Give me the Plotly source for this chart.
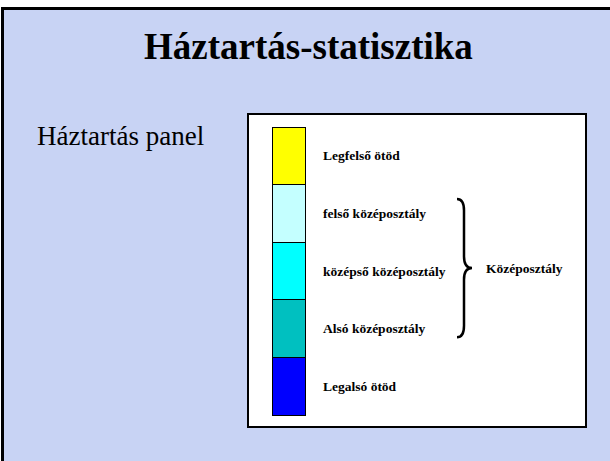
import plotly.graph_objects as go

# Quintiles, bottom to top
quintiles = ["Legalsó ötöd", "Alsó középosztály", "középső középosztály",
             "felső középosztály", "Legfelső ötöd"]
shares = [20, 20, 20, 20, 20]
colors = ["#0000FF", "#00C0C0", "#00FFFF", "#C4FFFF", "#FFFF00"]
middle_class = ["Alsó középosztály", "középső középosztály", "felső középosztály"]
middle_label = "Középosztály"

title_text = "Háztartás-statisztika"
subtitle_text = "Háztartás panel"

W, H = 610, 461
# white box in page pixels
BOX_L, BOX_R, BOX_T, BOX_B = 249, 585, 115, 426
SERIF = "Liberation Serif, Times New Roman, serif"
BG = "#c8d3f4"


def px_x(px):
    return (px - BOX_L) / (BOX_R - BOX_L)


def px_y(py):
    return (BOX_B - py) / (BOX_B - BOX_T)


fig = go.Figure()

bar_x = 39.5
for name, val, col in zip(quintiles, shares, colors):
    fig.add_trace(go.Bar(
        x=[bar_x], y=[val], width=33, name=name,
        marker=dict(color=col, line=dict(color="black", width=1)),
        showlegend=False, hoverinfo="name",
    ))

# labels next to each segment
cum = 0
for name, val in zip(quintiles, shares):
    fig.add_annotation(x=72, y=cum + val / 2, text=f"<b>{name}</b>",
                       xanchor="left", yanchor="middle", showarrow=False,
                       font=dict(family=SERIF, size=13.5, color="black"))
    cum += val

# brace spanning the middle-class segments
starts = {}
c = 0
for name, val in zip(quintiles, shares):
    starts[name] = (c, c + val)
    c += val
yb = starts[middle_class[0]][0] + 7
yt = starts[middle_class[-1]][1] - 5
yc = (yb + yt) / 2
x0, xm, xt = 208, 215, 223
r = 4
path = (f"M {x0},{yt} Q {xm},{yt} {xm},{yt - r} "
        f"L {xm},{yc + r} Q {xm},{yc} {xt},{yc} "
        f"Q {xm},{yc} {xm},{yc - r} "
        f"L {xm},{yb + r} Q {xm},{yb} {x0},{yb}")
fig.add_shape(type="path", path=path, xref="x", yref="y",
              line=dict(color="black", width=2.5))
fig.add_annotation(x=235, y=yc, text=f"<b>{middle_label}</b>",
                   xanchor="left", yanchor="middle", showarrow=False,
                   font=dict(family=SERIF, size=13.5, color="black"))

# slide frame: white strip on top/left, black border
fig.add_shape(type="rect", xref="paper", yref="paper",
              x0=px_x(0), x1=px_x(W), y0=px_y(0), y1=px_y(7),
              fillcolor="white", line=dict(width=0))
fig.add_shape(type="rect", xref="paper", yref="paper",
              x0=px_x(0), x1=px_x(1), y0=px_y(0), y1=px_y(H),
              fillcolor="white", line=dict(width=0))
fig.add_shape(type="rect", xref="paper", yref="paper",
              x0=px_x(1), x1=px_x(W), y0=px_y(7), y1=px_y(10),
              fillcolor="black", line=dict(width=0))
fig.add_shape(type="rect", xref="paper", yref="paper",
              x0=px_x(1), x1=px_x(4), y0=px_y(7), y1=px_y(H),
              fillcolor="black", line=dict(width=0))

fig.add_annotation(x=px_x(308), y=px_y(47), xref="paper", yref="paper",
                   text=f"<b>{title_text}</b>", showarrow=False,
                   xanchor="center", yanchor="middle",
                   font=dict(family=SERIF, size=37, color="black"))
fig.add_annotation(x=px_x(35), y=px_y(136), xref="paper", yref="paper",
                   text=subtitle_text, showarrow=False,
                   xanchor="left", yanchor="middle",
                   font=dict(family=SERIF, size=27, color="black"))

# y: bar spans 127..415 px for 0..100
unit = (415 - 127) / 100
fig.update_layout(
    width=W, height=H,
    margin=dict(l=BOX_L, r=W - BOX_R, t=BOX_T, b=H - BOX_B),
    barmode="stack",
    paper_bgcolor=BG, plot_bgcolor="white",
    xaxis=dict(range=[0, BOX_R - BOX_L], showgrid=False, zeroline=False,
               showticklabels=False, ticks="", showline=True, mirror=True,
               linecolor="black", linewidth=2, fixedrange=True),
    yaxis=dict(range=[-(BOX_B - 415) / unit, 100 + (127 - BOX_T) / unit],
               showgrid=False, zeroline=False, showticklabels=False,
               ticks="", showline=True, mirror=True,
               linecolor="black", linewidth=2, fixedrange=True),
)

fig.write_html("out.html", config={"displayModeBar": False},
               post_script="document.body.style.margin='0';"
                           "document.body.style.overflow='hidden';")
